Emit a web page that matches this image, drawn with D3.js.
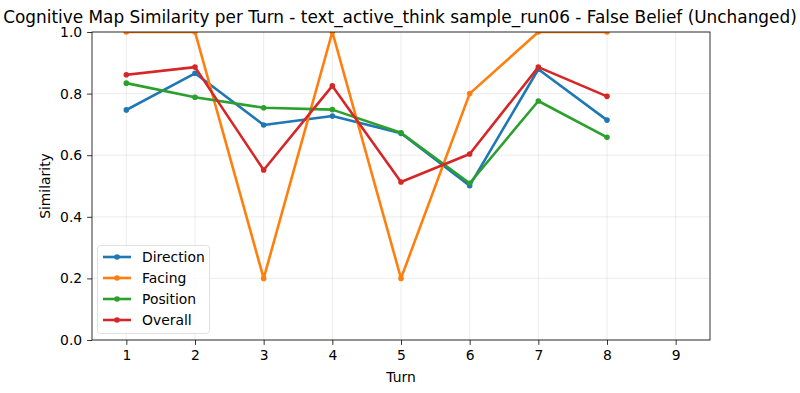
<!DOCTYPE html>
<html><head><meta charset="utf-8">
<script src="https://cdn.jsdelivr.net/npm/d3@7"></script>
<style>body{margin:0;background:#fff;} svg{display:block;font-family:"DejaVu Sans",sans-serif;}</style>
</head><body>
<svg id="c" width="800" height="393"></svg>
<script>
const turns = [1,2,3,4,5,6,7,8];
const direction = [0.747,0.866,0.698,0.727,0.671,0.501,0.879,0.714];
const facing    = [1.0,1.0,0.2,1.0,0.2,0.8,1.0,1.0];
const position  = [0.834,0.788,0.754,0.748,0.673,0.509,0.776,0.658];
const overall   = [0.861,0.886,0.552,0.825,0.513,0.604,0.886,0.791];
const seriesNames = ["Direction","Facing","Position","Overall"];
const seriesColors = ["#1f77b4","#ff7f0e","#2ca02c","#d62728"];
const xTicks = [1,2,3,4,5,6,7,8,9];
const yTicks = [0,0.2,0.4,0.6,0.8,1.0];
const title = "Cognitive Map Similarity per Turn - text_active_think sample_run06 - False Belief (Unchanged)";

const series = [direction,facing,position,overall];
const svg = d3.select("#c");
const L=92,R=710,T=32,B=340;
const x = d3.scaleLinear().domain([0.5,9.5]).range([L,R]);
const y = d3.scaleLinear().domain([0,1]).range([B,T]);

const g = svg.append("g");
g.selectAll(".gx").data(xTicks).join("line").attr("x1",d=>x(d)).attr("x2",d=>x(d)).attr("y1",T).attr("y2",B)
  .attr("stroke","#b0b0b0").attr("stroke-opacity",0.3).attr("stroke-width",0.8);
g.selectAll(".gy").data(yTicks).join("line").attr("y1",d=>y(d)).attr("y2",d=>y(d)).attr("x1",L).attr("x2",R)
  .attr("stroke","#b0b0b0").attr("stroke-opacity",0.3).attr("stroke-width",0.8);

svg.append("clipPath").attr("id","clip").append("rect").attr("x",L).attr("y",T).attr("width",R-L).attr("height",B-T);
const plot = svg.append("g").attr("clip-path","url(#clip)");
const line = d3.line().x((d,i)=>x(turns[i])).y(d=>y(d));
series.forEach((s,k)=>{
  plot.append("path").datum(s).attr("d",line).attr("fill","none").attr("stroke",seriesColors[k]).attr("stroke-width",2.6)
    .attr("stroke-linejoin","round").attr("stroke-linecap","square");
  plot.selectAll(null).data(s).join("circle").attr("cx",(d,i)=>x(turns[i])).attr("cy",d=>y(d)).attr("r",2.8).attr("fill",seriesColors[k]);
});

const xa = svg.append("g").attr("transform",`translate(0,${B})`).call(d3.axisBottom(x).tickValues(xTicks).tickFormat(d3.format("d")).tickSize(4.9).tickPadding(4.9));
const ya = svg.append("g").attr("transform",`translate(${L},0)`).call(d3.axisLeft(y).tickValues(yTicks).tickFormat(d3.format(".1f")).tickSize(4.9).tickPadding(4.9));
[xa,ya].forEach(a=>{a.select(".domain").remove(); a.selectAll("text").attr("font-size","13.9px").attr("fill","#000").attr("font-family","DejaVu Sans"); a.selectAll("line").attr("stroke","#000").attr("stroke-width",0.8);});
svg.append("rect").attr("x",L).attr("y",T).attr("width",R-L).attr("height",B-T).attr("fill","none").attr("stroke","#000").attr("stroke-width",0.8);

svg.append("text").attr("x",(L+R)/2).attr("y",382).attr("text-anchor","middle").attr("font-size","13.9px").text("Turn");
svg.append("text").attr("transform",`translate(50,${(T+B)/2}) rotate(-90)`).attr("text-anchor","middle").attr("font-size","13.9px").text("Similarity");
svg.append("text").attr("x",400).attr("y",23).attr("text-anchor","middle").attr("font-size","16.9px").text(title);

const lg = svg.append("g");
lg.append("rect").attr("x",97.5).attr("y",245.5).attr("width",112).attr("height",88).attr("rx",3).attr("fill","#fff").attr("fill-opacity",0.8).attr("stroke","#d9d9d9").attr("stroke-width",0.8);
seriesNames.forEach((n,k)=>{
  const yy = 257+k*21;
  lg.append("line").attr("x1",103).attr("x2",131).attr("y1",yy).attr("y2",yy).attr("stroke",seriesColors[k]).attr("stroke-width",2.6);
  lg.append("circle").attr("cx",117).attr("cy",yy).attr("r",2.8).attr("fill",seriesColors[k]);
  lg.append("text").attr("x",142).attr("y",yy+5).attr("font-size","13.9px").text(n);
});
</script>
</body></html>
